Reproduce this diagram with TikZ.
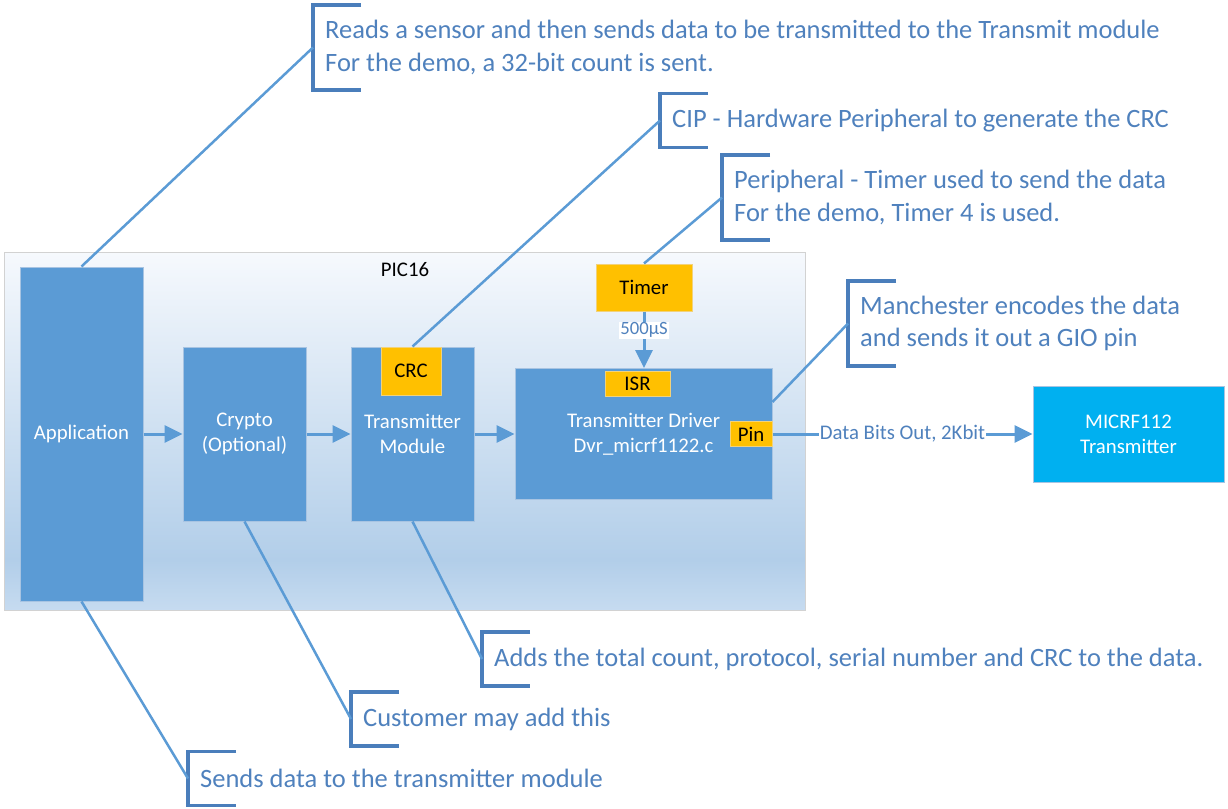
\documentclass[tikz,border=0pt]{standalone}
\usepackage{fontspec}
\setmainfont{Carlito}
\usetikzlibrary{arrows.meta}

\definecolor{boxblue}{HTML}{5B9BD5}
\definecolor{boxedge}{HTML}{A8C4E2}
\definecolor{orng}{HTML}{FFC000}
\definecolor{orngedge}{HTML}{F2D27A}
\definecolor{cyanbox}{HTML}{00B0F0}
\definecolor{calltext}{HTML}{4F81BD}
\definecolor{brkcol}{HTML}{4A7EBB}
\definecolor{mcutop}{HTML}{F6F9FD}
\definecolor{mcumid}{HTML}{B2CEE9}
\definecolor{mcubot}{HTML}{C6DBF0}

\pgfdeclareverticalshading{mcushade}{100bp}{color(0bp)=(mcubot); color(25bp)=(mcubot); color(32bp)=(mcumid); color(75bp)=(mcutop); color(100bp)=(mcutop)}

\newcommand\boxfont{\fontsize{20.8}{25.2}\selectfont}
\newcommand\lblfont{\fontsize{18.7}{22}\selectfont}
\newcommand\callfont{\fontsize{26.5}{32.2}\selectfont}

\tikzset{
  blk/.style={draw=boxedge, line width=1pt, fill=boxblue, text=white, font=\boxfont, align=center, inner sep=0pt},
  tag/.style={draw=orngedge, line width=1pt, fill=orng, text=black, font=\boxfont, inner sep=0pt},
  call/.style={anchor=west, align=left, font=\callfont, text=calltext, inner xsep=12pt, inner ysep=0pt},
  brk/.style={draw=brkcol, line width=3.5pt},
  lead/.style={draw=boxblue, line width=2.5pt},
  flow/.style={draw=boxblue, line width=3pt, -{Triangle[length=18pt,width=17pt]}},
}

\begin{document}
\begin{tikzpicture}[x=1pt, y=-1pt]
\useasboundingbox (0,0) rectangle (1228,808);

% PIC16 frame
\node[draw=gray!35, line width=1pt, shade, shading=mcushade, minimum width=801pt, minimum height=358pt, inner sep=0pt] (mcu) at (404.5,431) {};
\node[font=\boxfont] (mculbl) at (405,270) {PIC16};

\node[blk, minimum width=123pt, minimum height=334pt] (app) at (81.5,434) {Application};
\node[blk, minimum width=123pt, minimum height=174pt] (cry) at (244.5,434) {Crypto\\(Optional)};
\node[blk, minimum width=123pt, minimum height=174pt] (txm) at (412.5,434) {Transmitter\\Module};
\node[blk, minimum width=257pt, minimum height=131pt] (drv) at (643.5,434) {Transmitter Driver\\Dvr\_micrf1122.c};
\node[blk, fill=cyanbox, minimum width=191pt, minimum height=96pt] (mic) at (1128.5,434) {MICRF112\\Transmitter};

\node[tag, minimum width=60pt, minimum height=48pt] (crc) at (411,371) {CRC};
\node[tag, minimum width=65pt, minimum height=25pt] (isr) at (637.5,383.5) {ISR};
\node[tag, minimum width=42pt, minimum height=25pt] (pin) at (751,434) {Pin};
\node[tag, minimum width=96pt, minimum height=47pt] (tmr) at (644,287.5) {Timer};

\draw[flow] (app) -- (cry);
\draw[flow] (cry) -- (txm);
\draw[flow] (txm) -- (drv);
\draw[flow] (tmr) -- (tmr |- drv.north)
  node[pos=0.33, fill=white, inner sep=1pt, font=\lblfont, text=calltext] (tlbl) {500µS};
\draw[flow] (pin) -- (mic)
  node[midway, fill=white, inner sep=1pt, font=\boxfont, text=calltext] (dlbl) {Data Bits Out, 2Kbit};

% callouts
\node[call, minimum height=85pt] (c1) at (313,47.5) {Reads a sensor and then sends data to be transmitted to the Transmit module\\For the demo, a 32-bit count is sent.};
\node[call, minimum height=54pt] (c2) at (660,120.5) {CIP - Hardware Peripheral to generate the CRC};
\node[call, minimum height=85pt] (c3) at (722,197.5) {Peripheral - Timer used to send the data\\For the demo, Timer 4 is used.};
\node[call, minimum height=85pt] (c4) at (848,323.5) {Manchester encodes the data\\and sends it out a GIO pin};
\node[call, minimum height=54pt] (c5) at (482,659) {Adds the total count, protocol, serial number and CRC to the data.};
\node[call, minimum height=54pt] (c6) at (351,719) {Customer may add this};
\node[call, minimum height=54pt] (c7) at (188,778.5) {Sends data to the transmitter module};

\foreach \c in {c1,c2,c3,c4,c5,c6,c7}
  \draw[brk] ([xshift=48pt]\c.north west) -- (\c.north west) -- (\c.south west) -- ([xshift=48pt]\c.south west);

\coordinate (drvtap) at ([yshift=32pt]drv.east);
\foreach \a/\b in {app.north/c1, txm.north/c2, tmr.north/c3, drvtap/c4, txm.south/c5, cry.south/c6, app.south/c7}
  \draw[lead] (\a) -- (\b.west);

\end{tikzpicture}
\end{document}
